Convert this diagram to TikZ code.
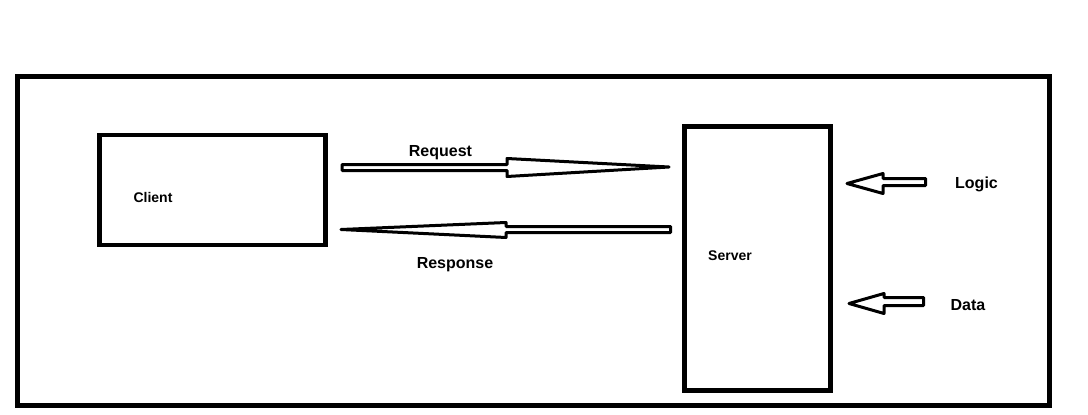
\documentclass[tikz,border=0pt]{standalone}
\usepackage{fontspec}
\setmainfont{Liberation Sans}
\begin{document}
\begin{tikzpicture}[x=1pt,y=-1pt,
  frame/.style={draw=black,line width=5pt},
  boxnode/.style={draw=black,line width=4.5pt,inner sep=0pt},
  blockarrow/.style={draw=black,line width=3pt,line join=round,fill=white},
  lbl/.style={font=\bfseries\fontsize{16}{16}\selectfont,anchor=base,inner sep=0pt},
  slbl/.style={font=\bfseries\fontsize{14}{14}\selectfont,anchor=base,inner sep=0pt}]
\useasboundingbox (0,0) rectangle (1088,415);
\fill[white] (0,0) rectangle (1088,415);
\draw[frame] (17.5,76.5) rectangle (1049.5,405.5);
\node[boxnode,minimum width=226pt,minimum height=110pt] (client) at (212.5,190) {};
\node[boxnode,minimum width=146pt,minimum height=264pt] (server) at (757.5,258.5) {};
\node[slbl] (clientlbl) at (153,202) {Client};
\node[slbl] (serverlbl) at (730,260) {Server};
\node[lbl] (reqlbl) at (440.5,156) {Request};
\node[lbl] (reslbl) at (455,268) {Response};
\node[lbl] (logiclbl) at (976.5,188) {Logic};
\node[lbl] (datalbl) at (968,310) {Data};
% Request arrow
\draw[blockarrow] (342,164.5) -- (507,164.5) -- (507,158.5) -- (669,167) -- (507,176.5) -- (507,170.5) -- (342,170.5) -- cycle;
% Response arrow
\draw[blockarrow] (670.5,226.5) -- (506,226.5) -- (506,222.5) -- (341,229.5) -- (506,237.5) -- (506,232.5) -- (670.5,232.5) -- cycle;
% Logic arrow
\draw[blockarrow] (925.5,178.5) -- (883,178.5) -- (883,173.5) -- (847,183.5) -- (883,193.5) -- (883,185.5) -- (925.5,185.5) -- cycle;
% Data arrow
\draw[blockarrow] (923.5,297.5) -- (884,297.5) -- (884,293.5) -- (849,303.5) -- (884,313.5) -- (884,305.5) -- (923.5,305.5) -- cycle;
\end{tikzpicture}
\end{document}
